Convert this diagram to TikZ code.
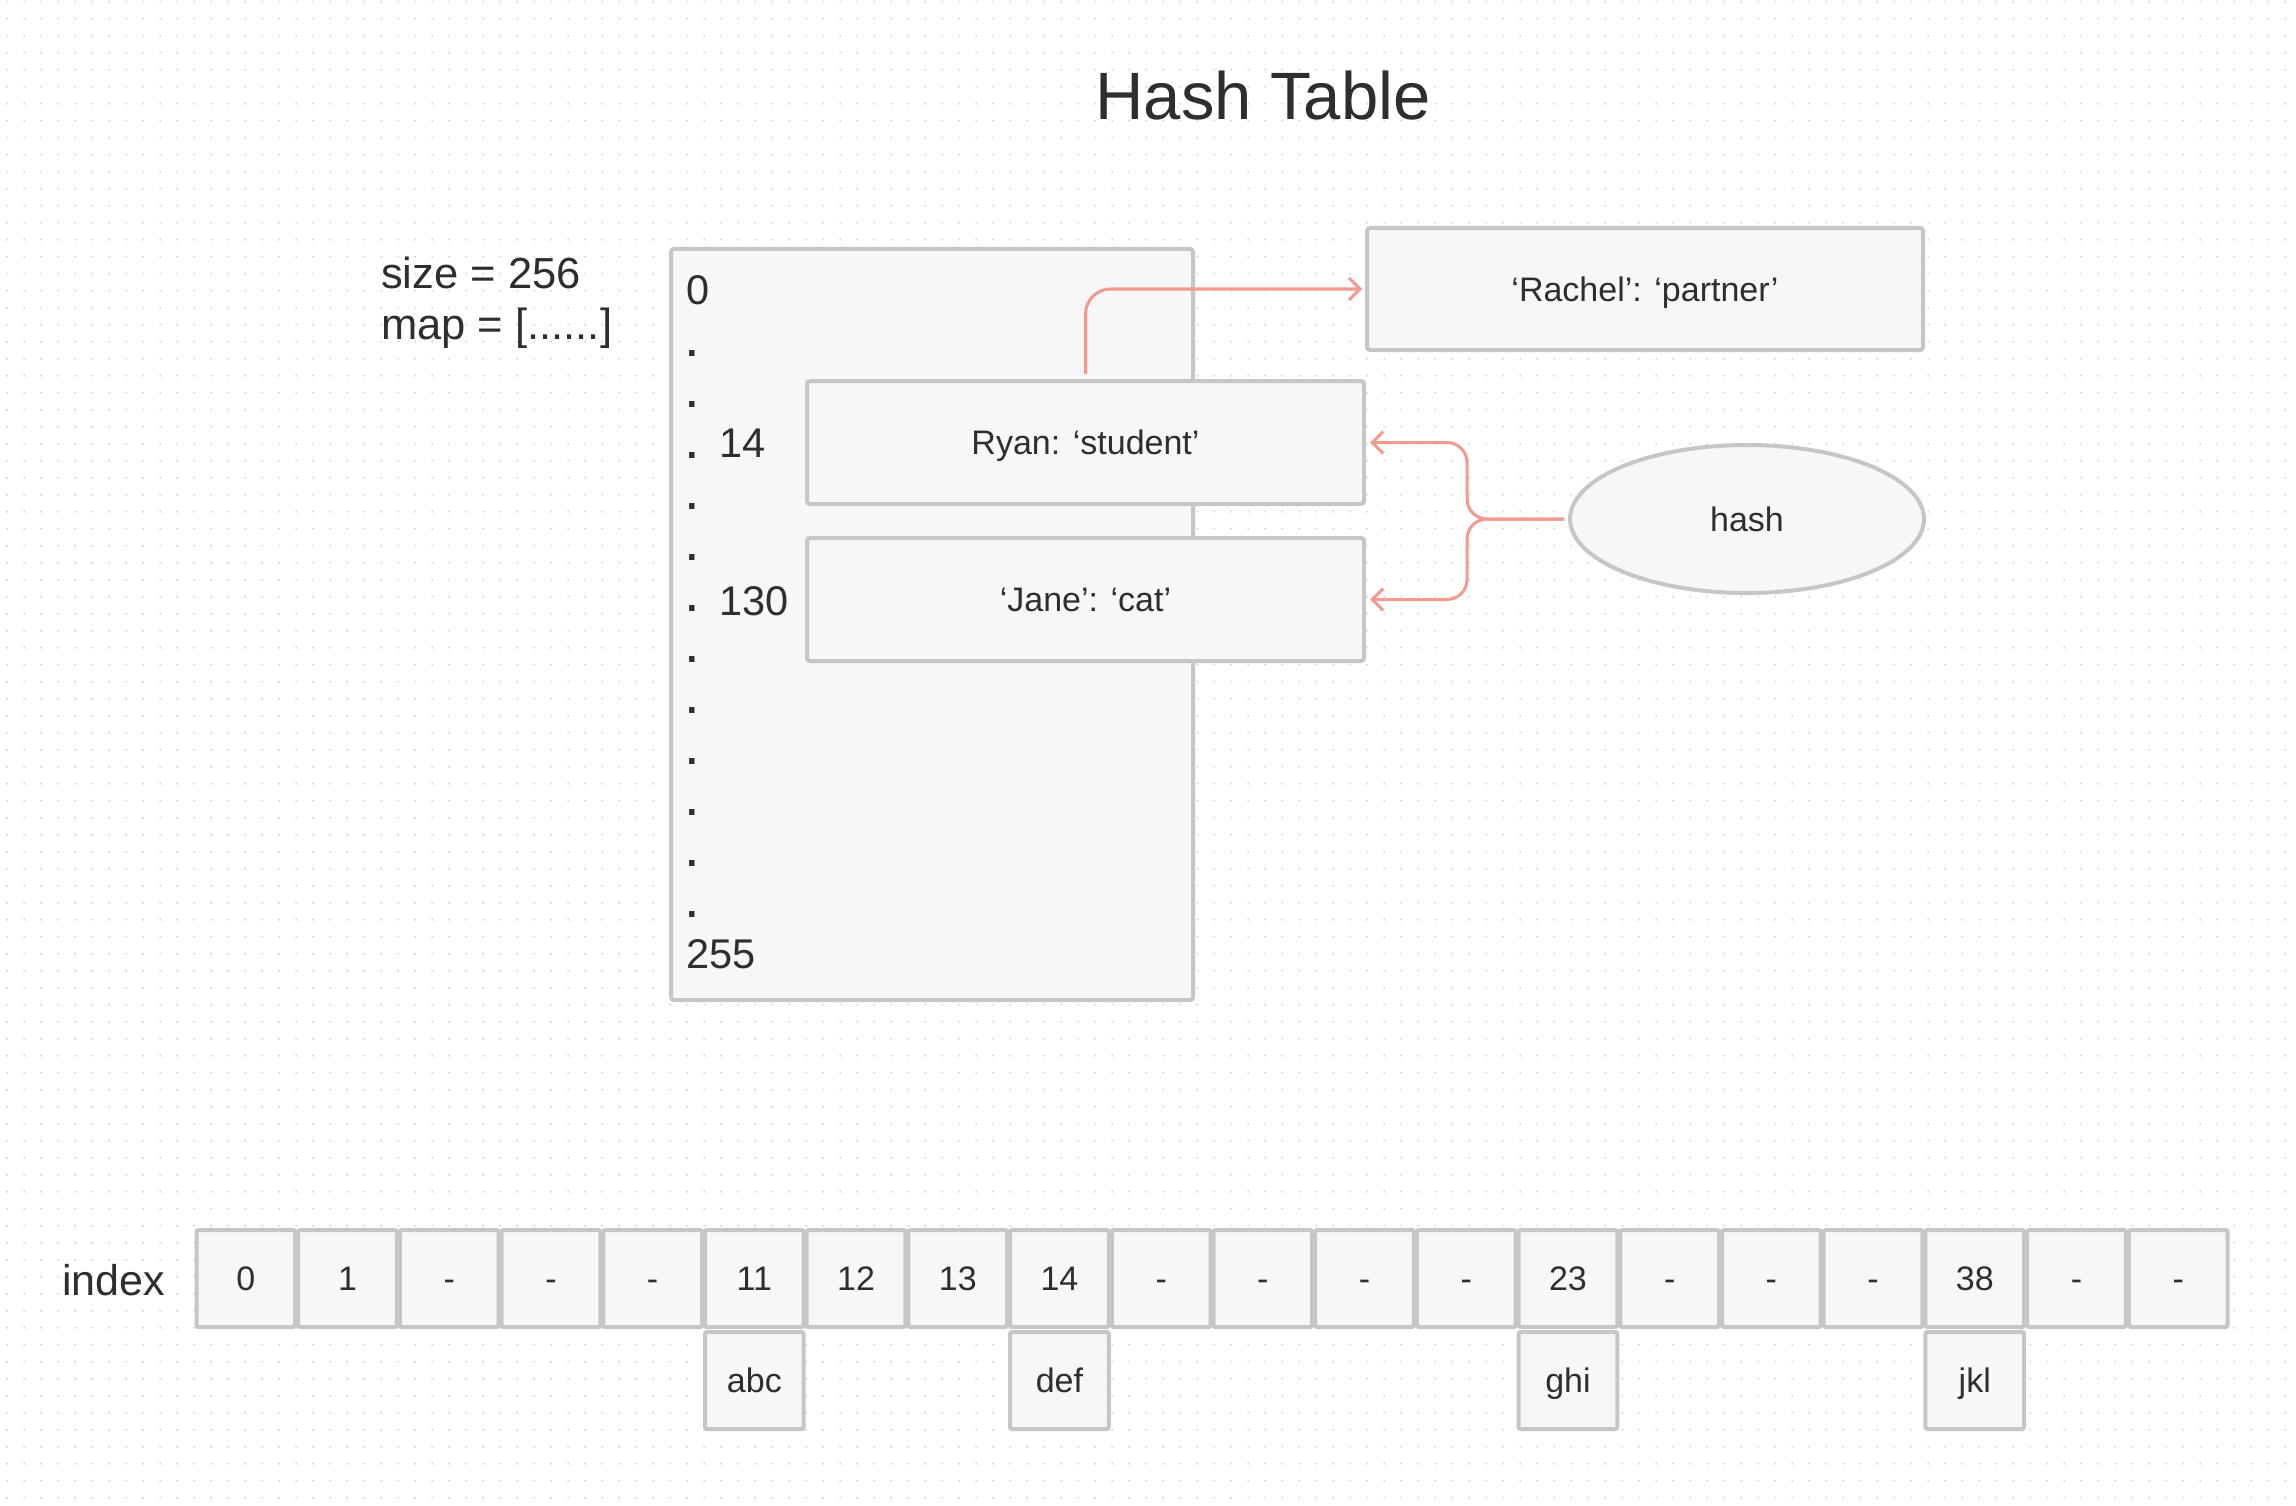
\documentclass[tikz,border=0pt]{standalone}
\usepackage{fontspec}
\setmainfont{Liberation Sans}
\usetikzlibrary{arrows.meta,shapes.geometric}
\definecolor{boxfill}{HTML}{F7F7F7}
\definecolor{boxline}{HTML}{C6C6C6}
\definecolor{ink}{HTML}{2E2E2E}
\definecolor{salmon}{HTML}{F29A8E}
\definecolor{griddot}{HTML}{D4D4D4}
\begin{document}
\begin{tikzpicture}[x=1pt,y=-1pt,
  box/.style={draw=boxline, fill=boxfill, line width=4pt, rounded corners=3pt, inner sep=0pt, text=ink},
  lbl/.style={font=\fontsize{34}{40}\selectfont, text height=24.5pt, text depth=0pt},
  cell/.style={box, rounded corners=2pt, minimum width=98.7pt, minimum height=97pt, lbl},
  bignum/.style={font=\fontsize{41.5}{48}\selectfont, text=ink, inner sep=0pt, anchor=base west},
  bigdot/.style={font=\fontsize{56}{60}\selectfont, text=ink, inner sep=0pt, anchor=base west},
  note/.style={font=\fontsize{43.5}{50}\selectfont, text=ink, inner sep=0pt, anchor=base west},
  redarrow/.style={draw=salmon, line width=3pt, -{Straight Barb[length=11pt,width=22pt]}},
]
\useasboundingbox (0,0) rectangle (2296,1506);
\fill[white] (0,0) rectangle (2296,1506);
% dotted grid
\foreach \k in {0,...,88} {
  \draw[griddot, line width=2.2pt, line cap=round, dash pattern=on 0pt off 17pt]
    (7.3,{1.7+17*\k}) -- (2296,{1.7+17*\k});
}
% title
\node[font=\fontsize{67}{76}\selectfont, text=ink, inner sep=0pt, anchor=base] (title) at (1263,120) {Hash Table};
% notes
\node[note] (size) at (381,288) {size = 256};
\node[note] (map) at (381,339) {map = [......]};
% big table
\node[box, minimum width=522pt, minimum height=751pt] (table) at (932,624.5) {};
\node[bignum] (n0) at (686,305) {0};
\node[bignum] (n14) at (719,457) {14};
\node[bignum] (n130) at (719,615) {130};
\node[bignum] (n255) at (686,968) {255};
\foreach \k in {0,...,11} {
  \node[bigdot] (d\k) at (684,{356+51*\k}) {.};
}
% entries
\node[box, lbl, minimum width=557pt, minimum height=123pt] (ryan) at (1085.5,442.5) {Ryan: ‘student’};
\node[box, lbl, minimum width=557pt, minimum height=123pt] (jane) at (1085.5,599.5) {‘Jane’: ‘cat’};
\node[box, lbl, minimum width=556pt, minimum height=122pt] (rachel) at (1645,289) {‘Rachel’: ‘partner’};
\node[ellipse, draw=boxline, fill=boxfill, line width=4pt, inner sep=0pt, minimum width=354pt, minimum height=148pt, text=ink, lbl] (hash) at (1747,519) {hash};
% connectors
\draw[redarrow, rounded corners=25pt, shorten <=5pt, shorten >=3pt] (ryan.north) |- (rachel.west);
\coordinate (junc) at (1467,519);
\draw[redarrow, rounded corners=20pt, shorten <=4pt, shorten >=4pt] (hash.west) -- (junc) |- (ryan.east);
\draw[redarrow, rounded corners=20pt, shorten <=4pt, shorten >=4pt] (hash.west) -- (junc) |- (jane.east);
% index array
\node[font=\fontsize{43}{50}\selectfont, text=ink, inner sep=0pt, anchor=base west] (index) at (62,1295) {index};
\foreach \lab [count=\i from 0] in {0,1,-,-,-,11,12,13,14,-,-,-,-,23,-,-,-,38,-,-} {
  \node[cell] (c\i) at ({195+101.7*(\i+0.5)},1278.5) {\lab};
}
\foreach \j/\lab in {5/abc,8/def,13/ghi,17/jkl} {
  \node[cell] (s\j) at ({195+101.7*(\j+0.5)},1380.5) {\lab};
}
\end{tikzpicture}
\end{document}
